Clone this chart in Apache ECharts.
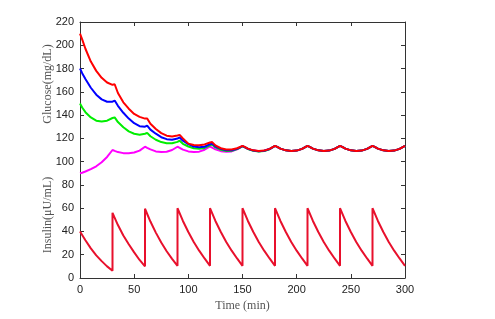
<!DOCTYPE html>
<html>
<head>
<meta charset="utf-8">
<script src="https://cdn.jsdelivr.net/npm/echarts@6/dist/echarts.min.js"></script>
<style>html,body{margin:0;padding:0;background:#fff;}#c{width:495px;height:319px;}</style>
</head>
<body>
<div id="c"></div>
<script>
// Time grid for glucose curves (min)
const gTime = [0,2,5,10,15,20,25, 30,32,35,40,45,50,55, 60,62,65,70,75,80,85, 90,92,95,100,105,110,115,
  120,122,125,130,135,140,145, 150,152,155,160,165,170,175, 180,182,185,190,195,200,205,
  210,212,215,220,225,230,235, 240,242,245,250,255,260,265, 270,272,275,280,285,290,295, 300];

const glucoseRed = [210,205,197,186,178,172,168, 166,166.5,159,151,145.5,141,138.5, 137,137,132.5,128,124.5,122.3,121.6,
  122.5,123,120,115.5,114.3,114,114.8, 116.5,116.8,114,111.5,110.5,110.5,111.5,
  113.5,112.7,111.2,109.7,109.1,109.5,111, 113.5,112.7,111.2,109.7,109.1,109.5,111,
  113.5,112.7,111.2,109.7,109.1,109.5,111, 113.5,112.7,111.2,109.7,109.1,109.5,111,
  113.5,112.7,111.2,109.7,109.1,109.5,111, 113.5];

const glucoseBlue = [180,176,171,163.5,157.5,153.5,151.5, 151.5,152.5,148,142,137,133,130.5, 130,131,127.5,124,121,119.3,118.8,
  119.8,120.8,118,115,113,112.3,112.8, 115,115.5,113,111,109.8,109.8,111,
  113.3,112.5,111,109.5,108.9,109.3,110.8, 113.5,112.7,111.2,109.7,109.1,109.5,111,
  113.5,112.7,111.2,109.7,109.1,109.5,111, 113.5,112.7,111.2,109.7,109.1,109.5,111,
  113.5,112.7,111.2,109.7,109.1,109.5,111, 113.5];

const glucoseGreen = [150,146.5,142.5,138,135.2,134.4,135.2, 137.5,138,134,129.5,126,124,123.2, 124,124.7,121.8,118.8,116.8,115.8,115.8,
  117,118,115.3,113,111.5,111,111.8, 114,114.7,112.2,110.2,109.2,109.3,110.8,
  113.2,112.4,110.9,109.4,108.8,109.2,110.7, 113.5,112.7,111.2,109.7,109.1,109.5,111,
  113.5,112.7,111.2,109.7,109.1,109.5,111, 113.5,112.7,111.2,109.7,109.1,109.5,111,
  113.5,112.7,111.2,109.7,109.1,109.5,111, 113.5];

const glucoseMagenta = [90,90.5,91.5,93.5,96,99.5,104, 110,109.2,108.2,107.3,107.2,107.8,109.5, 112.8,111.8,110.5,108.8,108.2,108.5,110,
  112.8,111.8,110.3,108.8,108.3,108.6,110.2, 113,112,110.5,109,108.5,108.8,110.5,
  113.3,112.5,111,109.5,108.9,109.3,110.8, 113.5,112.7,111.2,109.7,109.1,109.5,111,
  113.5,112.7,111.2,109.7,109.1,109.5,111, 113.5,112.7,111.2,109.7,109.1,109.5,111,
  113.5,112.7,111.2,109.7,109.1,109.5,111, 113.5];

// Insulin (duplicate times = injection jumps)
const iTime = [0,5,10,15,20,25,30,
  30,35,40,45,50,55,60,
  60,65,70,75,80,85,90,
  90,95,100,105,110,115,120,
  120,125,130,135,140,145,150,
  150,155,160,165,170,175,180,
  180,185,190,195,200,205,210,
  210,215,220,225,230,235,240,
  240,245,250,255,260,265,270,
  270,275,280,285,290,295,300];
const insulin = [40,32.5,25.5,19.5,14.5,10,6.3,
  56,45.5,36.5,29,22,15.5,10,
  59.5,48.5,39,30.5,23,16.5,10.5,
  60,49,39.5,31,23.5,16.8,10.5,
  60,49,39.5,31,23.5,16.8,10.5,
  60,49,39.5,31,23.5,16.8,10.5,
  60,49,39.5,31,23.5,16.8,10.5,
  60,49,39.5,31,23.5,16.8,10.5,
  60,49,39.5,31,23.5,16.8,10.5,
  60,49,39.5,31,23.5,16.8,10.5];

const xTicks = {min:0, max:300, interval:50};
const yTicks = {min:0, max:220, interval:20};

const pairs = (t, v) => t.map((x, i) => [x, v[i]]);
const chart = echarts.init(document.getElementById('c'), null, {renderer:'canvas'});
const axisLine = {show:true, onZero:false, lineStyle:{color:'#333', width:1}};
const tickIn = {show:true, inside:true, length:4, lineStyle:{color:'#333'}};
const lbl = {color:'#222', fontFamily:'Liberation Sans, Arial, sans-serif', fontSize:11};
function line(name, data, color, w){
  return {name, type:'line', data, showSymbol:false, symbol:'none', animation:false,
    lineStyle:{color, width:w}, itemStyle:{color}, xAxisIndex:0, yAxisIndex:0};
}
chart.setOption({
  animation:false,
  grid:{left:80, right:90, top:22, bottom:41, containLabel:false},
  xAxis:[
    {type:'value', position:'bottom', ...xTicks, axisLine, axisTick:tickIn, splitLine:{show:false},
     axisLabel:{...lbl, margin:6},
     name:'Time (min)', nameLocation:'middle', nameGap:20,
     nameTextStyle:{fontFamily:'Liberation Serif, serif', fontSize:12, color:'#555'}},
    {type:'value', position:'top', ...xTicks, axisLine, axisTick:tickIn, splitLine:{show:false}, axisLabel:{show:false}}
  ],
  yAxis:[
    {type:'value', position:'left', ...yTicks, axisLine, axisTick:tickIn, splitLine:{show:false},
     axisLabel:{...lbl, margin:6}},
    {type:'value', position:'right', ...yTicks, axisLine, axisTick:tickIn, splitLine:{show:false}, axisLabel:{show:false}}
  ],
  graphic:[
    {type:'text', x:48, y:84, rotation:Math.PI/2, style:{text:'Glucose(mg/dL)', fontFamily:'Liberation Serif, serif', fontSize:12, fill:'#555', align:'center', verticalAlign:'middle'}},
    {type:'text', x:48, y:215, rotation:Math.PI/2, style:{text:'Insulin(μU/mL)', fontFamily:'Liberation Serif, serif', fontSize:12, fill:'#555', align:'center', verticalAlign:'middle'}}
  ],
  series:[
    line('ins', pairs(iTime, insulin), '#e8102c', 2),
    line('magenta', pairs(gTime, glucoseMagenta), '#ff00ff', 2),
    line('green', pairs(gTime, glucoseGreen), '#00ee00', 2),
    line('blue', pairs(gTime, glucoseBlue), '#0000ff', 2),
    line('red', pairs(gTime, glucoseRed), '#ff0000', 2)
  ]
});
</script>
</body>
</html>
